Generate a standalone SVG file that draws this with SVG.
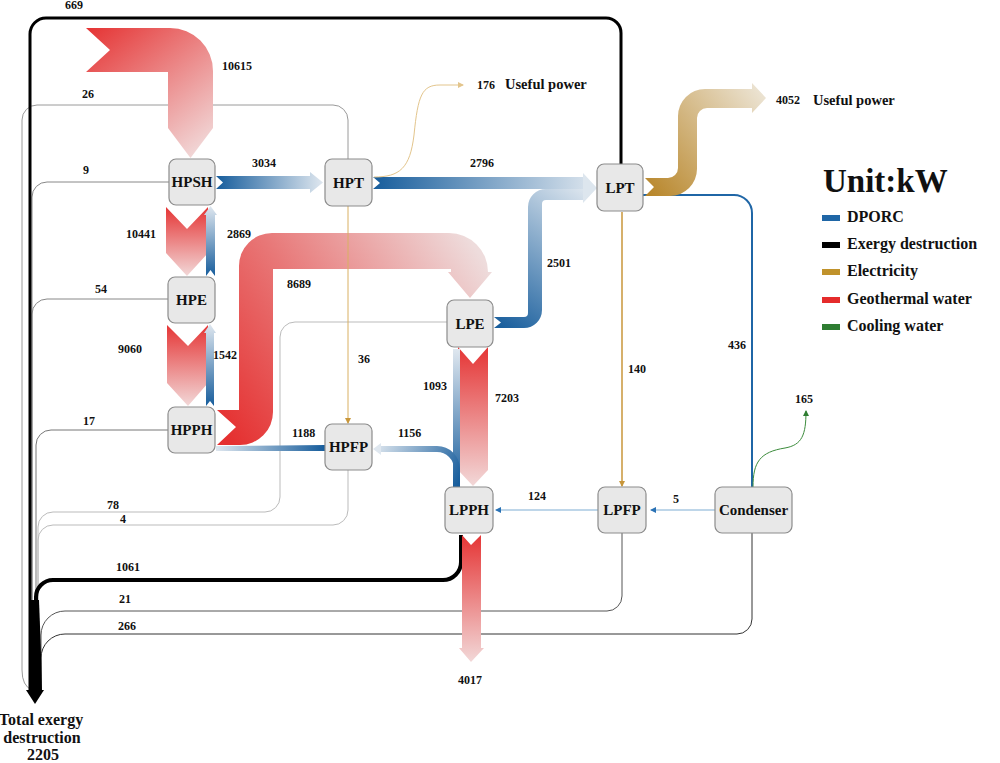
<svg xmlns="http://www.w3.org/2000/svg" width="1000" height="763" viewBox="0 0 1000 763">
<style>
.node rect{fill:#e8e8e8;stroke:#8c8c8c;stroke-width:1.2}
.node text{font-family:"Liberation Serif",serif;font-weight:bold;font-size:15px;fill:#111;text-anchor:middle}
.lbl{font-family:"Liberation Serif",serif;font-weight:bold;font-size:12px;fill:#111}
.big{font-family:"Liberation Serif",serif;font-weight:bold;font-size:14.5px;fill:#111}
.leg{font-family:"Liberation Serif",serif;font-weight:bold;font-size:16px;fill:#111}
.ex{fill:none}
</style>
<defs>
<linearGradient id="gR1" gradientUnits="userSpaceOnUse" x1="86" y1="28" x2="190" y2="158"><stop offset="0" stop-color="#e53333"/><stop offset="1" stop-color="#f1d6d6"/></linearGradient>
<linearGradient id="gRv1" gradientUnits="userSpaceOnUse" x1="0" y1="207" x2="0" y2="276"><stop offset="0" stop-color="#e53535"/><stop offset="1" stop-color="#f2d8d8"/></linearGradient>
<linearGradient id="gRv2" gradientUnits="userSpaceOnUse" x1="0" y1="325" x2="0" y2="406"><stop offset="0" stop-color="#e53535"/><stop offset="1" stop-color="#f2d8d8"/></linearGradient>
<linearGradient id="gR4" gradientUnits="userSpaceOnUse" x1="230" y1="440" x2="490" y2="270"><stop offset="0" stop-color="#e53030"/><stop offset="0.45" stop-color="#e87878"/><stop offset="1" stop-color="#eedcdc"/></linearGradient>
<linearGradient id="gRv3" gradientUnits="userSpaceOnUse" x1="0" y1="347" x2="0" y2="486"><stop offset="0" stop-color="#e53535"/><stop offset="1" stop-color="#f2d8d8"/></linearGradient>
<linearGradient id="gRv4" gradientUnits="userSpaceOnUse" x1="0" y1="535" x2="0" y2="662"><stop offset="0" stop-color="#e53535"/><stop offset="1" stop-color="#f2d8d8"/></linearGradient>
<linearGradient id="gB1" gradientUnits="userSpaceOnUse" x1="216" y1="0" x2="323" y2="0"><stop offset="0" stop-color="#175d9c"/><stop offset="1" stop-color="#dfe7ef"/></linearGradient>
<linearGradient id="gB2" gradientUnits="userSpaceOnUse" x1="373" y1="0" x2="597" y2="0"><stop offset="0" stop-color="#175d9c"/><stop offset="1" stop-color="#dfe7ef"/></linearGradient>
<linearGradient id="gB3" gradientUnits="userSpaceOnUse" x1="494" y1="325" x2="590" y2="190"><stop offset="0" stop-color="#175d9c"/><stop offset="1" stop-color="#dfe7ef"/></linearGradient>
<linearGradient id="gB4" gradientUnits="userSpaceOnUse" x1="0" y1="276" x2="0" y2="206"><stop offset="0" stop-color="#175d9c"/><stop offset="1" stop-color="#dfe7ef"/></linearGradient>
<linearGradient id="gB5" gradientUnits="userSpaceOnUse" x1="0" y1="406" x2="0" y2="324"><stop offset="0" stop-color="#175d9c"/><stop offset="1" stop-color="#dfe7ef"/></linearGradient>
<linearGradient id="gB6" gradientUnits="userSpaceOnUse" x1="324" y1="0" x2="216" y2="0"><stop offset="0" stop-color="#175d9c"/><stop offset="1" stop-color="#dfe7ef"/></linearGradient>
<linearGradient id="gB7" gradientUnits="userSpaceOnUse" x1="457" y1="487" x2="373" y2="449"><stop offset="0" stop-color="#175d9c"/><stop offset="1" stop-color="#dfe7ef"/></linearGradient>
<linearGradient id="gB8" gradientUnits="userSpaceOnUse" x1="0" y1="487" x2="0" y2="349"><stop offset="0" stop-color="#175d9c"/><stop offset="1" stop-color="#dfe7ef"/></linearGradient>
<linearGradient id="gG1" gradientUnits="userSpaceOnUse" x1="645" y1="190" x2="766" y2="95"><stop offset="0" stop-color="#b8862a"/><stop offset="1" stop-color="#ece4d4"/></linearGradient>
<marker id="aGold" viewBox="0 0 6 6" refX="5" refY="3" markerWidth="6" markerHeight="6" markerUnits="userSpaceOnUse" orient="auto"><path d="M0,0 L6,3 L0,6 Z" fill="#c8963a"/></marker>
<marker id="aGoldL" viewBox="0 0 6 6" refX="5" refY="3" markerWidth="6" markerHeight="6" markerUnits="userSpaceOnUse" orient="auto"><path d="M0,0 L6,3 L0,6 Z" fill="#e3c58c"/></marker>
<marker id="aBlue" viewBox="0 0 6 6" refX="5" refY="3" markerWidth="6" markerHeight="6" markerUnits="userSpaceOnUse" orient="auto"><path d="M0,0 L6,3 L0,6 Z" fill="#2a72b5"/></marker>
<marker id="aGreen" viewBox="0 0 6 6" refX="5" refY="3" markerWidth="6" markerHeight="6" markerUnits="userSpaceOnUse" orient="auto"><path d="M0,0 L6,3 L0,6 Z" fill="#2e7d32"/></marker>
</defs>

<g id="connectors">
<g class="ex">
<path d="M348,159 V120 A15 15 0 0 0 333,105 H37 A15 15 0 0 0 22,120 V670 Q22,686 32,690" stroke="#9a9a9a" stroke-width="1"/>
<path d="M169,182 H47 A15 15 0 0 0 32,197 V690" stroke="#888" stroke-width="1"/>
<path d="M168,299 H47 A15 15 0 0 0 32,314 V690" stroke="#888" stroke-width="1"/>
<path d="M168,430 H51 A15 15 0 0 0 36,445 V690" stroke="#777" stroke-width="1"/>
<path d="M447,322 H295 A15 15 0 0 0 280,337 V497 A15 15 0 0 1 265,512 H53 A15 15 0 0 0 38,527 V690" stroke="#bbb" stroke-width="1"/>
<path d="M348,470 V510 A15 15 0 0 1 333,525 H53 A15 15 0 0 0 38,540 V690" stroke="#bbb" stroke-width="1"/>
<path d="M622,533 V596 A15 15 0 0 1 607,611 H65 A24 24 0 0 0 41,635 V690" stroke="#555" stroke-width="1"/>
<path d="M752,533 V619 A15 15 0 0 1 737,634 H65 A24 24 0 0 0 41,658 V690" stroke="#333" stroke-width="1"/>
<path d="M461,535 V562 A18 18 0 0 1 443,580 H53 A17 17 0 0 0 36,597 V690" stroke="#000" stroke-width="4"/>
<path d="M621,164 V33 A15 15 0 0 0 606,18 H46 A16 16 0 0 0 30,34 V690" stroke="#000" stroke-width="3"/>
</g>
<path d="M30,600 L39,600 Q41,645 42,692 L29,692 Z" fill="#000"/>
<path d="M26,690 L44,690 L35,704 Z" fill="#000"/>

<path d="M86,28 H170 A43 43 0 0 1 213,71 V128 L190.5,158 L168,128 V72 H86 L110,50 Z" fill="url(#gR1)"/>
<path d="M166,207 L187,229 L208,207 V253 L187,276 L166,253 Z" fill="url(#gRv1)"/>
<path d="M167,325 L188,346 L208,325 V383 L188,406 L167,383 Z" fill="url(#gRv2)"/>
<path d="M217,410 L236,427 L217,445 H240 A33 33 0 0 0 273,412 V269 H451 V272 L448,272 L470,298 L492,272 L488,272 A39 39 0 0 0 449,233 H272 A33 33 0 0 0 239,266 V410 Z" fill="url(#gR4)"/>
<path d="M458,347 L473,364 L488,347 V470 L473,486 L458,470 Z" fill="url(#gRv3)"/>
<path d="M462,535 L471,545 L481,535 V648 L484,648 L471,662 L459,648 L462,648 Z" fill="url(#gRv4)"/>

<path d="M216,176 L223,182.5 L216,189 H310 V193 L323,182.5 L310,172 V176 Z" fill="url(#gB1)"/>
<path d="M373,177 L380,183 L373,189 H584 V177 Z" fill="url(#gB2)"/>
<path d="M494,317 L501,322.5 L494,328 H524 A18 18 0 0 0 542,310 V204 Q542,200 546,200 H584 V189 H546 A18 18 0 0 0 528,207 V313 Q528,317 524,317 Z" fill="url(#gB3)"/>
<path d="M583,173 L597,188 L583,203 Z" fill="#dde6ee"/>
<path d="M206,276 L210.5,270 L215,276 V215 L217,215 L210.5,206 L204,215 L206,215 Z" fill="url(#gB4)"/>
<path d="M206,406 L210,401 L214,406 V333 L216,333 L210,324 L204,333 L206,333 Z" fill="url(#gB5)"/>
<path d="M325,445 V451 H216 V446 Z" fill="url(#gB6)"/>
<rect x="453" y="349" width="7" height="138" fill="url(#gB8)"/>
<path d="M457,487 V469 A20 20 0 0 0 437,449 H380" fill="none" stroke="url(#gB7)" stroke-width="6"/>
<path d="M381,443 L373,449 L381,455 Z" fill="#dfe7ef"/>
<path d="M643,195 H734 A18 18 0 0 1 752,213 V487" fill="none" stroke="#1f66a6" stroke-width="2"/>
<path d="M715,510 H651" fill="none" stroke="#a8c8e2" stroke-width="1.5" marker-end="url(#aBlue)"/>
<path d="M598,510 H496" fill="none" stroke="#a8c8e2" stroke-width="1.5" marker-end="url(#aBlue)"/>

<path d="M645,178 L654,187 L645,196 H670 A27 27 0 0 0 697,169 V118 A10 10 0 0 1 707,108 H752 V113 L766,98 L752,83 V89 H705 A27 27 0 0 0 678,116 V168 A10 10 0 0 1 668,178 Z" fill="url(#gG1)"/>
<path d="M374,177 C400,177 410,168 414,135 C418,95 422,85 440,85 H463" fill="none" stroke="#e3c58c" stroke-width="1" marker-end="url(#aGoldL)"/>
<path d="M622,212 V486" fill="none" stroke="#c8963a" stroke-width="1.5" marker-end="url(#aGold)"/>
<path d="M348,206 V423" fill="none" stroke="#d9b062" stroke-width="1" marker-end="url(#aGold)"/>

<path d="M753,487 C753,462 760,452 785,448 C802,445 806,435 806,411" fill="none" stroke="#3c8c3c" stroke-width="1" marker-end="url(#aGreen)"/>
</g>

<g id="HPSH" class="node"><rect x="169" y="159" width="46" height="46" rx="7"/><text x="192" y="187">HPSH</text></g>
<g id="HPT" class="node"><rect x="325" y="159" width="47" height="47" rx="7"/><text x="348.5" y="188">HPT</text></g>
<g id="LPT" class="node"><rect x="597" y="164" width="46" height="47" rx="7"/><text x="620" y="193">LPT</text></g>
<g id="HPE" class="node"><rect x="168" y="277" width="47" height="46" rx="7"/><text x="191.5" y="305">HPE</text></g>
<g id="HPPH" class="node"><rect x="168" y="407" width="47" height="46" rx="7"/><text x="191.5" y="435">HPPH</text></g>
<g id="LPE" class="node"><rect x="447" y="300" width="46" height="47" rx="7"/><text x="470" y="329">LPE</text></g>
<g id="HPFP" class="node"><rect x="325" y="424" width="47" height="46" rx="7"/><text x="348.5" y="452">HPFP</text></g>
<g id="LPPH" class="node"><rect x="445" y="487" width="48" height="46" rx="7"/><text x="469" y="515">LPPH</text></g>
<g id="LPFP" class="node"><rect x="598" y="487" width="48" height="46" rx="7"/><text x="622" y="515">LPFP</text></g>
<g id="Condenser" class="node"><rect x="715" y="487" width="77" height="46" rx="7"/><text x="753.5" y="515">Condenser</text></g>

<g id="labels">
<text class="lbl" x="65" y="9">669</text>
<text class="lbl" x="222" y="70">10615</text>
<text class="lbl" x="82" y="98">26</text>
<text class="lbl" x="83" y="174">9</text>
<text class="lbl" x="252" y="167">3034</text>
<text class="lbl" x="126" y="238">10441</text>
<text class="lbl" x="227" y="238">2869</text>
<text class="lbl" x="470" y="167">2796</text>
<text class="lbl" x="477" y="89">176</text>
<text class="big" x="505" y="89">Useful power</text>
<text class="lbl" x="547" y="267">2501</text>
<text class="lbl" x="776" y="104" font-size="11">4052</text>
<text class="big" x="813" y="105">Useful power</text>
<text class="lbl" x="728" y="349">436</text>
<text class="lbl" x="95" y="293">54</text>
<text class="lbl" x="287" y="288">8689</text>
<text class="lbl" x="358" y="363">36</text>
<text class="lbl" x="213" y="359">1542</text>
<text class="lbl" x="118" y="353">9060</text>
<text class="lbl" x="423" y="390">1093</text>
<text class="lbl" x="495" y="402">7203</text>
<text class="lbl" x="628" y="373">140</text>
<text class="lbl" x="795" y="403">165</text>
<text class="lbl" x="292" y="437">1188</text>
<text class="lbl" x="398" y="437">1156</text>
<text class="lbl" x="83" y="425">17</text>
<text class="lbl" x="107" y="509">78</text>
<text class="lbl" x="120" y="523">4</text>
<text class="lbl" x="528" y="500">124</text>
<text class="lbl" x="673" y="503">5</text>
<text class="lbl" x="116" y="571">1061</text>
<text class="lbl" x="119" y="603">21</text>
<text class="lbl" x="118" y="630">266</text>
<text class="lbl" x="458" y="684">4017</text>
<text class="leg" x="41" y="725" text-anchor="middle" font-size="13">Total exergy</text>
<text class="leg" x="42" y="743" text-anchor="middle" font-size="13">destruction</text>
<text class="leg" x="43" y="760" text-anchor="middle" font-size="13">2205</text>
</g>

<g id="legend">
<text x="823" y="192" font-family="Liberation Serif, serif" font-weight="bold" font-size="33" fill="#111">Unit:kW</text>
<rect x="822" y="215" width="18" height="6" fill="#1f66a6"/>
<text class="leg" x="847" y="222">DPORC</text>
<rect x="822" y="242" width="18" height="6" fill="#000"/>
<text class="leg" x="847" y="249">Exergy destruction</text>
<rect x="822" y="269" width="18" height="6" fill="#c0922b"/>
<text class="leg" x="847" y="276">Electricity</text>
<rect x="822" y="297" width="18" height="6" fill="#e52b2b"/>
<text class="leg" x="847" y="304">Geothermal water</text>
<rect x="822" y="324" width="18" height="6" fill="#2e7d32"/>
<text class="leg" x="847" y="331">Cooling water</text>
</g>
</svg>
